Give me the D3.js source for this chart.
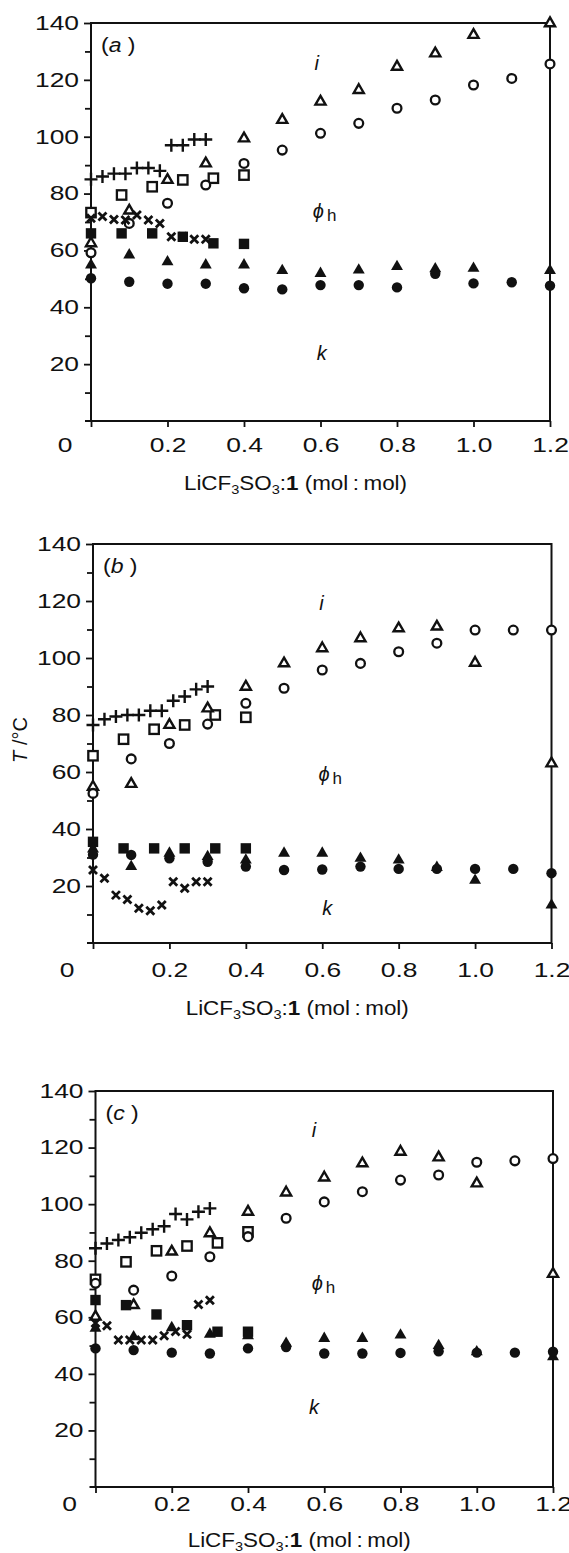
<!DOCTYPE html>
<html>
<head>
<meta charset="utf-8">
<script src="https://cdn.jsdelivr.net/npm/d3@7"></script>
<style>
  html, body { margin: 0; padding: 0; background: #fff; }
  svg { display: block; }
</style>
</head>
<body>
<div id="chart"></div>
<script>
// shared x positions (mol:mol)
const xFull = [0, 0.1, 0.2, 0.3, 0.4, 0.5, 0.6, 0.7, 0.8, 0.9, 1.0, 1.1, 1.2];
const xTri = [0, 0.1, 0.2, 0.3, 0.4, 0.5, 0.6, 0.7, 0.8, 0.9, 1.0, 1.2];
const xFine = [0, 0.03, 0.06, 0.09, 0.12, 0.15, 0.18, 0.21, 0.24, 0.27, 0.3];
const xSquare = [0, 0.08, 0.16, 0.24, 0.32, 0.4];

// panel (a)
const aPlus = [85, 86, 87, 87, 89, 89, 88, 97, 97, 99, 99];
const aOpenSquare = [73.3, 79.5, 82.4, 84.8, 85.4, 86.5];
const aOpenTri = [62.5, 74, 84.8, 90.6, 99.4, 105.9, 112.3, 116.4, 124.6, 129.3, 135.8, 139.9];
const aOpenCircle = [59.2, 69.5, 76.6, 83, 90.6, 95.3, 101.2, 104.7, 110, 112.9, 118.2, 120.5, 125.6];
const aCross = [71.3, 71.9, 70.9, 70.7, 72.5, 70.7, 69.5, 64.8, 64.9, 63.9, 63.9];
const aFilledSquare = [66, 66, 66, 64.8, 62.5, 62.3];
const aFilledTri = [54.9, 58.4, 56, 54.9, 54.9, 52.9, 51.9, 53.1, 54.3, 53.5, 53.7, 52.9];
const aFilledCircle = [50.2, 49, 48.3, 48.3, 46.7, 46.3, 47.8, 47.8, 47, 51.8, 48.4, 48.8, 47.6];

// panel (b)
const bPlus = [76.5, 78.5, 79.5, 80, 80, 81.5, 81.5, 85, 86.5, 89, 90];
const bOpenSquare = [65.7, 71.5, 75, 76.5, 80, 79.2];
const bOpenTri = [54.8, 55.8, 76.5, 82.3, 89.9, 98.1, 103.4, 106.9, 110.4, 111, 98.3, 63];
const bOpenCircle = [52.5, 64.6, 70, 76.8, 84.1, 89.4, 95.8, 98.1, 102.2, 105.2, 109.8, 109.8, 109.8];
const bCross = [25.6, 22.7, 16.8, 15.3, 12.2, 11.3, 13.3, 21.5, 19.2, 21.5, 21.5];
const bFilledSquare = [35.5, 33.2, 33.2, 33.2, 33.2, 33.2];
const bFilledTri = [33, 26.8, 31.5, 30.3, 29.1, 31.5, 31.5, 29.7, 29.1, 26.5, 22, 13.3];
const bFilledCircle = [31, 30.9, 29.7, 28.5, 26.8, 25.6, 25.8, 26.8, 26, 26, 26, 26, 24.5];

// panel (c)
const cPlus = [84.4, 86.1, 87.3, 88.3, 89.9, 91.1, 92.2, 96.5, 94.6, 97.3, 98.5];
const cOpenSquare = [73.4, 79.6, 83.5, 85.2, 86.3, 90.2];
const cOpenTri = [60.2, 64.3, 83.2, 89.7, 97.3, 104.1, 109.4, 114.4, 118.5, 116.5, 107.3, 75.3];
const cOpenCircle = [72, 69.6, 74.6, 81.4, 88.5, 95, 100.8, 104.4, 108.5, 110.3, 114.8, 115.3, 116.1];
const cCross = [58, 57, 52, 52, 52, 52, 53.5, 55, 54, 64.5, 66];
const cFilledSquare = [66.1, 64.3, 61, 57.2, 54.9, 54.9];
const cFilledTri = [56.1, 53.1, 56.3, 54, 53.5, 50.8, 52.5, 52.5, 53.7, 50, 47.8, 46];
const cFilledCircle = [49, 48.4, 47.5, 47.2, 49, 49.5, 47.2, 47.2, 47.4, 48, 47.5, 47.5, 47.8];

const yMajor = [20, 40, 60, 80, 100, 120, 140];
const yMinor = [10, 30, 50, 70, 90, 110, 130];
const xTicks = [0, 0.2, 0.4, 0.6, 0.8, 1.0, 1.2];

const ink = "#111";
const font = "'Liberation Sans', Arial, Helvetica, sans-serif";

const panels = [
  {
    tag: "a", box: { left: 91, right: 550, top: 23, bottom: 421 }, xPad: 11, titleY: 490,
    notes: { i: [0.584, 123.5], phi: [0.58, 71.4], k: [0.59, 21.5] },
    series: [
      ["plus", xFine, aPlus], ["openSquare", xSquare, aOpenSquare], ["openTri", xTri, aOpenTri],
      ["openCircle", xFull, aOpenCircle], ["cross", xFine, aCross], ["filledSquare", xSquare, aFilledSquare],
      ["filledTri", xTri, aFilledTri], ["filledCircle", xFull, aFilledCircle]
    ]
  },
  {
    tag: "b", box: { left: 93, right: 551.5, top: 544, bottom: 943 }, xPad: 14, titleY: 1015, yTitle: true,
    notes: { i: [0.592, 116.8], phi: [0.59, 56.8], k: [0.6, 9.8] },
    series: [
      ["plus", xFine, bPlus], ["openSquare", xSquare, bOpenSquare], ["openTri", xTri, bOpenTri],
      ["openCircle", xFull, bOpenCircle], ["cross", xFine, bCross], ["filledSquare", xSquare, bFilledSquare],
      ["filledTri", xTri, bFilledTri], ["filledCircle", xFull, bFilledCircle]
    ]
  },
  {
    tag: "c", box: { left: 95.5, right: 553, top: 1091, bottom: 1487 }, xPad: 4, titleY: 1547,
    notes: { i: [0.567, 123.7], phi: [0.567, 69.6], k: [0.56, 25.8] },
    series: [
      ["plus", xFine, cPlus], ["openSquare", xSquare, cOpenSquare], ["openTri", xTri, cOpenTri],
      ["openCircle", xFull, cOpenCircle], ["cross", xFine, cCross], ["filledSquare", xSquare, cFilledSquare],
      ["filledTri", xTri, cFilledTri], ["filledCircle", xFull, cFilledCircle]
    ]
  }
];

const svg = d3.select("#chart").append("svg")
  .attr("width", 569)
  .attr("height", 1553)
  .attr("font-family", font);

svg.append("rect").attr("width", 569).attr("height", 1553).attr("fill", "#fff");

// the scanned figure's lettering is wide, so stretch text horizontally
function stretch(selection, factor) {
  selection.each(function () {
    const len = this.getComputedTextLength();
    if (len > 0) {
      d3.select(this).attr("textLength", len * factor).attr("lengthAdjust", "spacingAndGlyphs");
    }
  });
}

function drawMarker(g, kind, cx, cy) {
  const tri = d3.symbol().type(d3.symbolTriangle);
  if (kind === "filledCircle") {
    g.append("circle").attr("cx", cx).attr("cy", cy).attr("r", 5.2).attr("fill", ink);
  } else if (kind === "openCircle") {
    g.append("circle").attr("cx", cx).attr("cy", cy).attr("r", 4.4)
      .attr("fill", "#fff").attr("stroke", ink).attr("stroke-width", 2.3);
  } else if (kind === "filledSquare") {
    g.append("rect").attr("x", cx - 5.2).attr("y", cy - 5.2).attr("width", 10.4).attr("height", 10.4).attr("fill", ink);
  } else if (kind === "openSquare") {
    g.append("rect").attr("x", cx - 4.7).attr("y", cy - 4.7).attr("width", 9.4).attr("height", 9.4)
      .attr("fill", "#fff").attr("stroke", ink).attr("stroke-width", 2.3);
  } else if (kind === "filledTri") {
    g.append("path").attr("transform", `translate(${cx},${cy})`)
      .attr("d", tri.size(62)()).attr("fill", ink);
  } else if (kind === "openTri") {
    g.append("path").attr("transform", `translate(${cx},${cy})`)
      .attr("d", tri.size(44)()).attr("fill", "#fff").attr("stroke", ink)
      .attr("stroke-width", 2.4).attr("stroke-linejoin", "miter");
  } else if (kind === "plus") {
    g.append("path").attr("d", `M${cx - 6.5},${cy}H${cx + 6.5}M${cx},${cy - 6.5}V${cy + 6.5}`)
      .attr("stroke", ink).attr("stroke-width", 2.4);
  } else if (kind === "cross") {
    g.append("path").attr("d", `M${cx - 4},${cy - 4}L${cx + 4},${cy + 4}M${cx - 4},${cy + 4}L${cx + 4},${cy - 4}`)
      .attr("stroke", ink).attr("stroke-width", 2.8);
  }
}

function drawPanel(p) {
  const { left, right, top, bottom } = p.box;
  const x = d3.scaleLinear().domain([0, 1.2]).range([left, right]);
  const y = d3.scaleLinear().domain([0, 140]).range([bottom, top]);
  const g = svg.append("g");

  // y axis: major ticks with labels, minor ticks without
  g.append("g").attr("transform", `translate(${left},0)`)
    .call(d3.axisLeft(y).tickValues(yMajor).tickSize(7).tickPadding(5).tickFormat(d3.format("d")));
  g.append("g").attr("transform", `translate(${left},0)`)
    .call(d3.axisLeft(y).tickValues(yMinor).tickSize(6).tickFormat(""));

  // x axis
  g.append("g").attr("transform", `translate(0,${bottom})`)
    .call(d3.axisBottom(x).tickValues(xTicks).tickSize(6).tickPadding(p.xPad)
      .tickFormat((d) => (d === 0 ? "" : d3.format(".1f")(d))));

  g.selectAll(".domain").remove();
  g.selectAll(".tick line").attr("stroke", ink).attr("stroke-width", 1.8);
  g.selectAll(".tick text").attr("fill", ink).attr("font-size", 20).attr("font-family", font)
    .call(stretch, 1.32);

  // frame
  g.append("rect")
    .attr("x", left).attr("y", top)
    .attr("width", right - left).attr("height", bottom - top)
    .attr("fill", "none").attr("stroke", ink).attr("stroke-width", 2);
  g.append("line").attr("x1", left - 6).attr("x2", left).attr("y1", bottom).attr("y2", bottom)
    .attr("stroke", ink).attr("stroke-width", 2);

  // origin label
  g.append("text").attr("x", left - 26).attr("y", bottom + p.xPad + 6)
    .attr("dy", "0.71em").attr("text-anchor", "middle")
    .attr("font-size", 20).attr("fill", ink).text("0")
    .call(stretch, 1.32);

  // panel tag
  const tag = g.append("text").attr("x", left + 10).attr("y", top + 29)
    .attr("font-size", 20).attr("fill", ink);
  tag.append("tspan").text("(");
  tag.append("tspan").attr("font-style", "italic").text(p.tag);
  tag.append("tspan").text(" )");
  tag.call(stretch, 1.15);

  // curve labels
  g.append("text").attr("x", x(p.notes.i[0])).attr("y", y(p.notes.i[1]))
    .attr("font-size", 20).attr("font-style", "italic").attr("fill", ink).text("i");
  const phi = g.append("text").attr("x", x(p.notes.phi[0])).attr("y", y(p.notes.phi[1]))
    .attr("font-size", 20).attr("fill", ink);
  phi.append("tspan").attr("font-style", "italic").text("\u03d5");
  phi.append("tspan").attr("dx", 3).attr("dy", 3).attr("font-size", 17).text("h");
  g.append("text").attr("x", x(p.notes.k[0])).attr("y", y(p.notes.k[1]))
    .attr("font-size", 20).attr("font-style", "italic").attr("fill", ink).text("k");

  // axis title
  const title = g.append("text").attr("x", (left + right) / 2 - 25).attr("y", p.titleY)
    .attr("text-anchor", "middle").attr("font-size", 20).attr("fill", ink);
  title.append("tspan").text("LiCF");
  title.append("tspan").attr("dy", 4).attr("font-size", 13).text("3");
  title.append("tspan").attr("dy", -4).text("SO");
  title.append("tspan").attr("dy", 4).attr("font-size", 13).text("3");
  title.append("tspan").attr("dy", -4).text(":");
  title.append("tspan").attr("font-weight", "bold").text("1");
  title.append("tspan").text(" (mol\u2009:\u2009mol)");
  title.call(stretch, 1.12);

  if (p.yTitle) {
    const yt = svg.append("text")
      .attr("transform", `translate(27,740) rotate(-90)`)
      .attr("text-anchor", "middle").attr("font-size", 20).attr("fill", ink);
    yt.append("tspan").attr("font-style", "italic").text("T");
    yt.append("tspan").text(" /\u00b0C");
  }

  // data marks
  const marks = g.append("g");
  p.series.forEach(([kind, xs, ys]) => {
    ys.forEach((v, i) => drawMarker(marks, kind, x(xs[i]), y(v)));
  });
}

panels.forEach(drawPanel);
</script>
</body>
</html>
